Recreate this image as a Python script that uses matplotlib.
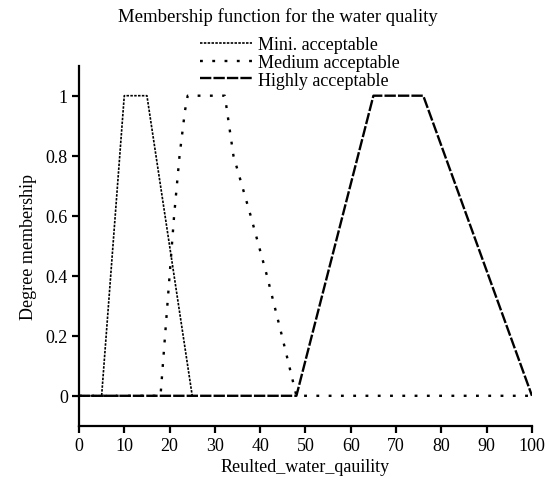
import matplotlib
matplotlib.use("Agg")
import matplotlib.pyplot as plt

# membership curves
mini_x = [0, 5, 10, 15, 25]
mini_y = [0, 0, 1, 1, 0]

medium_x = [0, 18, 19, 20, 21, 22.2, 23.4, 24, 32.2, 34.1, 37.9, 41.5, 44.8, 48, 100]
medium_y = [0, 0, 0.2, 0.4, 0.6, 0.8, 0.95, 1, 1, 0.8, 0.6, 0.4, 0.2, 0, 0]

high_x = [0, 48, 65, 76, 100]
high_y = [0, 0, 1, 1, 0]

labels = ["Mini. acceptable", "Medium acceptable", "Highly acceptable"]
x_ticks = [0, 10, 20, 30, 40, 50, 60, 70, 80, 90, 100]
y_ticks = [0, 0.2, 0.4, 0.6, 0.8, 1]
y_tick_labels = ["0", "0.2", "0.4", "0.6", "0.8", "1"]

plt.rcParams["font.family"] = ["Liberation Serif", "DejaVu Serif"]
plt.rcParams["font.size"] = 13

fig = plt.figure(figsize=(5.5, 4.85), dpi=100)
ax = fig.add_axes([0.1436, 0.12, 0.8236, 0.7425])

l1, = ax.plot(mini_x, mini_y, color="black", lw=1.2, dashes=(1.5, 0.8), label=labels[0])
l2, = ax.plot(medium_x, medium_y, color="black", lw=1.7, dashes=(1.2, 4.0), label=labels[1])
l3, = ax.plot(high_x, high_y, color="black", lw=1.7, dashes=(4.8, 0.9), label=labels[2])

ax.set_xlim(0, 100)
ax.set_ylim(-0.1, 1.1)
ax.set_xticks(x_ticks)
ax.set_yticks(y_ticks)
ax.set_yticklabels(y_tick_labels)
ax.spines["top"].set_visible(False)
ax.spines["right"].set_visible(False)
ax.spines["left"].set_linewidth(1.6)
ax.spines["bottom"].set_linewidth(1.6)
ax.tick_params(direction="out", length=5, width=1.6, pad=3)
ax.margins(0)

ax.set_xlabel("Reulted_water_qauility", labelpad=3)
ax.set_ylabel("Degree membership", labelpad=6)

fig.text(278 / 550, 1 - 17 / 485, "Membership function for the water quality",
         ha="center", va="center", fontsize=13.5)
fig.legend(handles=[l1, l2, l3], loc="upper left",
           bbox_to_anchor=(200 / 550, 1 - 37 / 485), frameon=False,
           handlelength=2.9, handletextpad=0.3, labelspacing=0.05,
           borderaxespad=0, borderpad=0)

fig.savefig("out.png", dpi=100)
